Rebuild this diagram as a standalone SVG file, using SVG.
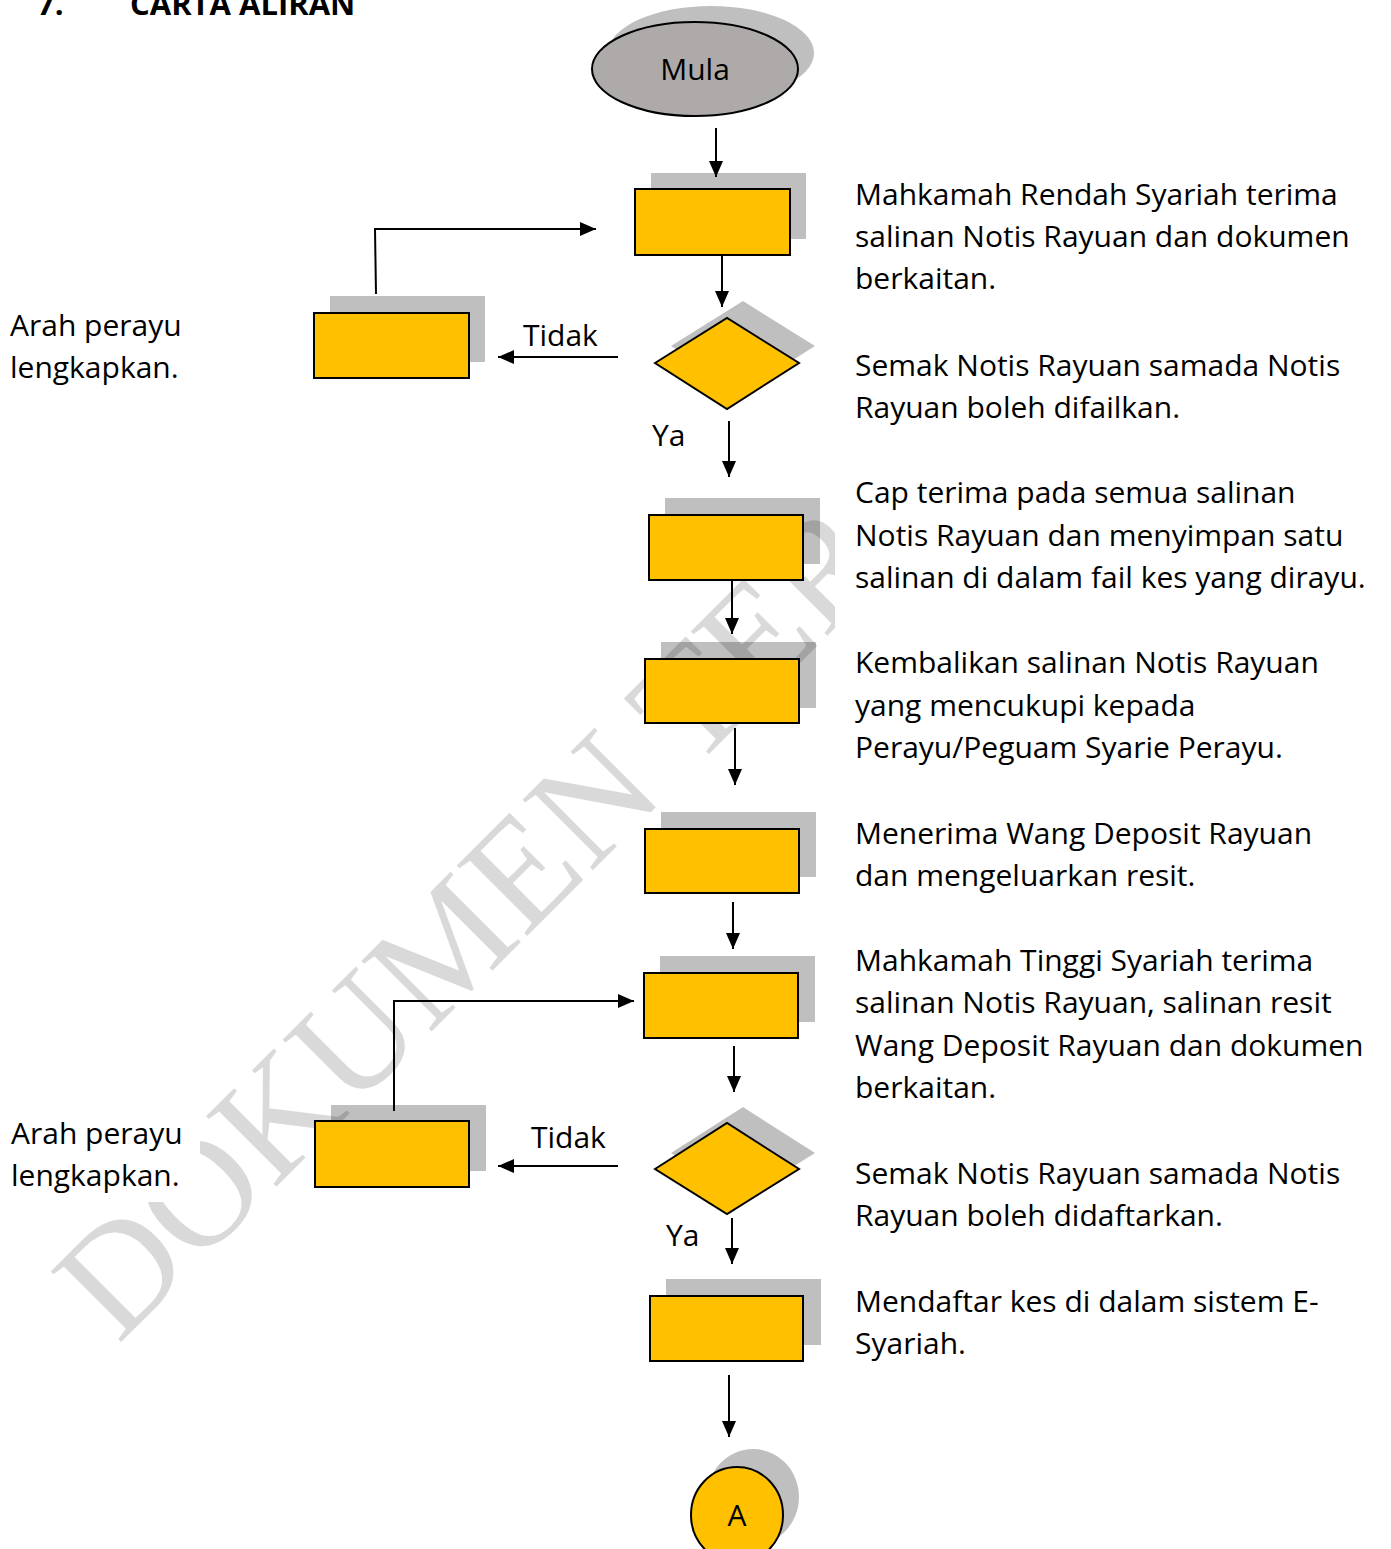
<svg xmlns="http://www.w3.org/2000/svg" width="1391" height="1549" viewBox="0 0 1391 1549">
<defs>
<marker id="ah" viewBox="0 0 16 14" refX="16" refY="7" markerWidth="16" markerHeight="14" markerUnits="userSpaceOnUse" orient="auto">
<path d="M0,0 L16,7 L0,14 z" fill="#000"/>
</marker>
<clipPath id="wmclip"><rect x="0" y="0" width="835" height="1549"/></clipPath>
</defs>
<style>
.t{font-family:"Open Sans","Noto Sans","Liberation Sans",sans-serif;font-size:30px;fill:#000}
.h{font-family:"Open Sans","Noto Sans","Liberation Sans",sans-serif;font-size:31px;font-weight:bold;fill:#000}
.box{fill:#FFC000;stroke:#000;stroke-width:2}
.sh{fill:#000;fill-opacity:0.25}
.ln{fill:none;stroke:#000;stroke-width:2;marker-end:url(#ah)}
.wm{font-family:"Liberation Serif","Times New Roman",serif;font-size:152px;fill:#000;fill-opacity:0.15}
</style>
<rect x="0" y="0" width="1391" height="1549" fill="#fff"/>
<g id="watermark" clip-path="url(#wmclip)">
<text class="wm" transform="translate(118,1345) rotate(-45)">DOKUMEN TER</text>
</g>
<rect id="label-mask" x="0" y="1112" width="200" height="90" fill="#fff"/>
<g id="title">
<text class="h" x="37" y="15">7.</text>
<text class="h" x="130" y="15">CARTA ALIRAN</text>
</g>
<g id="n-mula">
<ellipse class="sh" cx="711" cy="53" rx="103" ry="47"/>
<ellipse cx="695" cy="69" rx="103" ry="47" fill="#AEAAAA" stroke="#000" stroke-width="2"/>
<text class="t" x="695" y="80" text-anchor="middle">Mula</text>
</g>
<g id="n-box1">
<rect class="sh" x="651" y="173" width="155" height="66"/>
<rect class="box" x="635" y="189" width="155" height="66"/>
</g>
<g id="n-dec1">
<polygon class="sh" points="671,346 743,301 815,346 743,392"/>
<polygon class="box" points="655,363 727,318 799,363 727,409"/>
</g>
<g id="n-left1">
<rect class="sh" x="330" y="296" width="155" height="66"/>
<rect class="box" x="314" y="313" width="155" height="65"/>
</g>
<g id="n-box3">
<rect class="sh" x="665" y="498" width="155" height="66"/>
<rect class="box" x="649" y="515" width="154" height="65"/>
</g>
<g id="n-box4">
<rect class="sh" x="661" y="642" width="155" height="66"/>
<rect class="box" x="645" y="659" width="154" height="64"/>
</g>
<g id="n-box5">
<rect class="sh" x="661" y="812" width="155" height="65"/>
<rect class="box" x="645" y="829" width="154" height="64"/>
</g>
<g id="n-box6">
<rect class="sh" x="660" y="956" width="155" height="66"/>
<rect class="box" x="644" y="973" width="154" height="65"/>
</g>
<g id="n-dec2">
<polygon class="sh" points="671,1153 743,1107 815,1153 743,1198"/>
<polygon class="box" points="655,1169 727,1123 799,1169 727,1214"/>
</g>
<g id="n-left2">
<rect class="sh" x="331" y="1105" width="155" height="66"/>
<rect class="box" x="315" y="1121" width="154" height="66"/>
</g>
<g id="n-box8">
<rect class="sh" x="666" y="1279" width="155" height="66"/>
<rect class="box" x="650" y="1296" width="153" height="65"/>
</g>
<g id="n-end">
<ellipse class="sh" cx="753" cy="1497" rx="46" ry="48"/>
<ellipse class="box" cx="737" cy="1515" rx="46" ry="48"/>
<text class="t" x="737" y="1526" text-anchor="middle">A</text>
</g>
<g id="connectors">
<line class="ln" x1="716" y1="128" x2="716" y2="177"/>
<line class="ln" x1="722" y1="255" x2="722" y2="307"/>
<line class="ln" x1="618" y1="357" x2="498" y2="357"/>
<polyline class="ln" points="376,294 375,229 596,229"/>
<line class="ln" x1="729" y1="421" x2="729" y2="477"/>
<line class="ln" x1="732" y1="580" x2="732" y2="634"/>
<line class="ln" x1="735" y1="728" x2="735" y2="785"/>
<line class="ln" x1="733" y1="902" x2="733" y2="949"/>
<polyline class="ln" points="394,1111 394,1001 634,1001"/>
<line class="ln" x1="734" y1="1046" x2="734" y2="1092"/>
<line class="ln" x1="618" y1="1166" x2="498" y2="1166"/>
<line class="ln" x1="732" y1="1218" x2="732" y2="1264"/>
<line class="ln" x1="729" y1="1375" x2="729" y2="1437"/>
</g>
<g id="labels">
<text class="t" x="523" y="346">Tidak</text>
<text class="t" x="652" y="446">Ya</text>
<text class="t" x="531" y="1148">Tidak</text>
<text class="t" x="666" y="1246">Ya</text>
</g>
<g id="left-notes">
<text class="t" x="10" y="336">Arah perayu</text>
<text class="t" x="10" y="378">lengkapkan.</text>
<text class="t" x="11" y="1144">Arah perayu</text>
<text class="t" x="11" y="1186">lengkapkan.</text>
</g>
<g id="descriptions">
<text class="t" x="855" y="205">Mahkamah Rendah Syariah terima</text>
<text class="t" x="855" y="247">salinan Notis Rayuan dan dokumen</text>
<text class="t" x="855" y="289">berkaitan.</text>
<text class="t" x="855" y="376">Semak Notis Rayuan samada Notis</text>
<text class="t" x="855" y="418">Rayuan boleh difailkan.</text>
<text class="t" x="855" y="503">Cap terima pada semua salinan</text>
<text class="t" x="855" y="546">Notis Rayuan dan menyimpan satu</text>
<text class="t" x="855" y="588">salinan di dalam fail kes yang dirayu.</text>
<text class="t" x="855" y="673">Kembalikan salinan Notis Rayuan</text>
<text class="t" x="855" y="716">yang mencukupi kepada</text>
<text class="t" x="855" y="758">Perayu/Peguam Syarie Perayu.</text>
<text class="t" x="855" y="844">Menerima Wang Deposit Rayuan</text>
<text class="t" x="855" y="886">dan mengeluarkan resit.</text>
<text class="t" x="855" y="971">Mahkamah Tinggi Syariah terima</text>
<text class="t" x="855" y="1013">salinan Notis Rayuan, salinan resit</text>
<text class="t" x="855" y="1056">Wang Deposit Rayuan dan dokumen</text>
<text class="t" x="855" y="1098">berkaitan.</text>
<text class="t" x="855" y="1184">Semak Notis Rayuan samada Notis</text>
<text class="t" x="855" y="1226">Rayuan boleh didaftarkan.</text>
<text class="t" x="855" y="1312">Mendaftar kes di dalam sistem E-</text>
<text class="t" x="855" y="1354">Syariah.</text>
</g>
</svg>
